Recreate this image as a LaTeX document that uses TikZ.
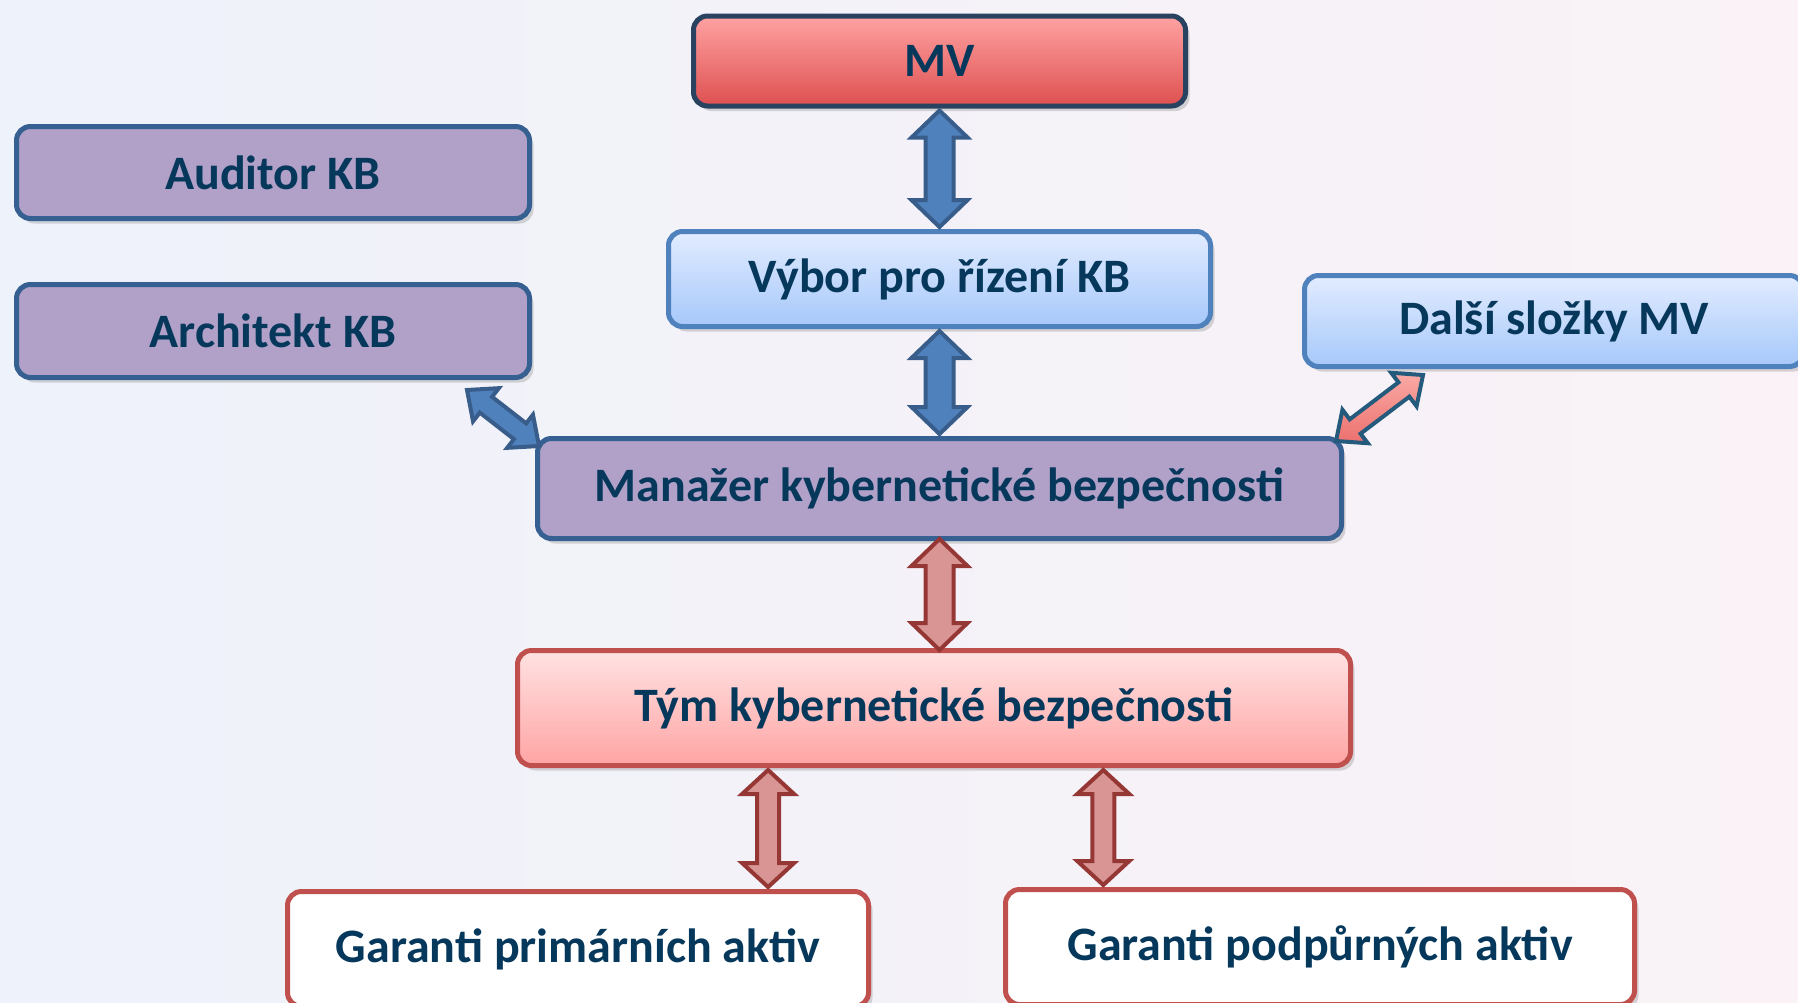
\documentclass[tikz,border=0pt]{standalone}
\usepackage{fontspec}
\setmainfont{Carlito}
\usetikzlibrary{calc,shadows}
\definecolor{txtblue}{RGB}{6,56,92}
\definecolor{bgleft}{RGB}{238,242,250}
\definecolor{bgmid}{RGB}{226,230,238}
\definecolor{bgright}{RGB}{250,242,247}
\definecolor{purplefill}{RGB}{177,160,199}
\definecolor{purpleline}{RGB}{55,96,146}
\definecolor{mvtop}{RGB}{255,162,162}
\definecolor{mvbottom}{RGB}{222,80,80}
\definecolor{mvline}{RGB}{40,66,96}
\definecolor{lbluetop}{RGB}{226,236,255}
\definecolor{lbluebottom}{RGB}{166,200,250}
\definecolor{lblueline}{RGB}{79,129,189}
\definecolor{pinktop}{RGB}{255,226,226}
\definecolor{pinkbottom}{RGB}{255,164,164}
\definecolor{redline}{RGB}{192,80,77}
\definecolor{arrowblue}{RGB}{79,129,189}
\definecolor{arrowblueline}{RGB}{56,93,138}
\definecolor{arrowpink}{RGB}{217,149,148}
\definecolor{arrowred}{RGB}{149,55,53}
\definecolor{arrowcoral}{RGB}{236,112,110}
\definecolor{arrowcorallt}{RGB}{250,170,165}
\definecolor{arrowteal}{RGB}{36,90,124}
\tikzset{
  box/.style={draw, rounded corners=14pt, line width=5pt, inner sep=0pt,
    font=\bfseries\fontsize{48}{58}\selectfont, text=txtblue,
    drop shadow={shadow xshift=4pt, shadow yshift=-5pt, opacity=0.3}},
  purplebox/.style={box, fill=purplefill, draw=purpleline},
  bluebox/.style={box, top color=lbluetop, bottom color=lbluebottom, draw=lblueline},
  dblarrow/.style n args={3}{line width=4pt, to path={
    coordinate (bs) at ($(\tikztostart)!#1!(\tikztotarget)$)
    coordinate (bt) at ($(\tikztotarget)!#1!(\tikztostart)$)
    (\tikztostart) -- ($(bs)!#2!90:(\tikztotarget)$) -- ($(bs)!#3!90:(\tikztotarget)$)
    -- ($(bt)!#3!-90:(\tikztostart)$) -- ($(bt)!#2!-90:(\tikztostart)$)
    -- (\tikztotarget) -- ($(bt)!#2!90:(\tikztostart)$) -- ($(bt)!#3!90:(\tikztostart)$)
    -- ($(bs)!#3!-90:(\tikztotarget)$) -- ($(bs)!#2!-90:(\tikztotarget)$) -- cycle}},
  bluearrow/.style={dblarrow={27pt}{28pt}{14pt}, draw=arrowblueline, fill=arrowblue},
  redarrow/.style={dblarrow={27pt}{28pt}{14pt}, draw=arrowred, fill=arrowpink}
}
\begin{document}
\begin{tikzpicture}[x=1pt,y=-1pt]
\fill[left color=bgleft, middle color=bgmid, right color=bgright] (0,0) rectangle (1798,1002);
\useasboundingbox (0,0) rectangle (1798,1002);

\node[box, top color=mvtop, bottom color=mvbottom, draw=mvline, minimum width=492pt, minimum height=90pt] (mv) at (939.5,61) {MV};
\node[bluebox, minimum width=542pt, minimum height=95pt] (vybor) at (939.5,279) {Výbor pro řízení KB};
\node[purplebox, minimum width=513pt, minimum height=92pt] (auditor) at (273,172.5) {Auditor KB};
\node[purplebox, minimum width=513pt, minimum height=93pt] (arch) at (273,331) {Architekt KB};
\node[bluebox, minimum width=499pt, minimum height=91pt] (dalsi) at (1554,321) {Další složky MV};
\node[purplebox, minimum width=804pt, minimum height=100pt] (man) at (939.5,488.5) {Manažer kybernetické bezpečnosti};
\node[box, top color=pinktop, bottom color=pinkbottom, draw=redline, minimum width=833pt, minimum height=115pt] (tym) at (934,708) {Tým kybernetické bezpečnosti};
\node[box, fill=white, draw=redline, minimum width=581pt, minimum height=115pt] (gp) at (578,949) {Garanti primárních aktiv};
\node[box, fill=white, draw=redline, minimum width=629pt, minimum height=115pt] (gs) at (1320,947) {Garanti podpůrných aktiv};

\draw[bluearrow] ([yshift=-2pt]mv.south) to ([yshift=2pt]vybor.north);
\draw[bluearrow] ([yshift=-2pt]vybor.south) to ([yshift=2pt]man.north);
\draw[dblarrow={24pt}{21pt}{10pt}, draw=arrowblueline, fill=arrowblue] ([xshift=-65pt,yshift=-10pt]arch.south east) to ([xshift=4pt,yshift=-10pt]man.north west);
\draw[dblarrow={24pt}{21pt}{9pt}, draw=arrowteal, top color=arrowcorallt, bottom color=arrowcoral] ([xshift=-8pt,yshift=-5pt]man.north east) to ([xshift=121pt,yshift=-6pt]dalsi.south west);
\coordinate (mt) at (man.south |- tym.north);
\draw[redarrow] ([yshift=2pt]man.south) to ([yshift=-2pt]mt);

\coordinate (t1) at ($(tym.south west)!0.302!(tym.south east)$);
\coordinate (t2) at ($(tym.south west)!0.702!(tym.south east)$);
\coordinate (p1) at (t1 |- gp.north);
\coordinate (p2) at (t2 |- gs.north);
\draw[dblarrow={24pt}{26pt}{11pt}, draw=arrowred, fill=arrowpink] ([yshift=-2pt]t1) to ([yshift=2pt]p1);
\draw[dblarrow={24pt}{26pt}{11pt}, draw=arrowred, fill=arrowpink] ([yshift=-2pt]t2) to ([yshift=2pt]p2);
\end{tikzpicture}
\end{document}
